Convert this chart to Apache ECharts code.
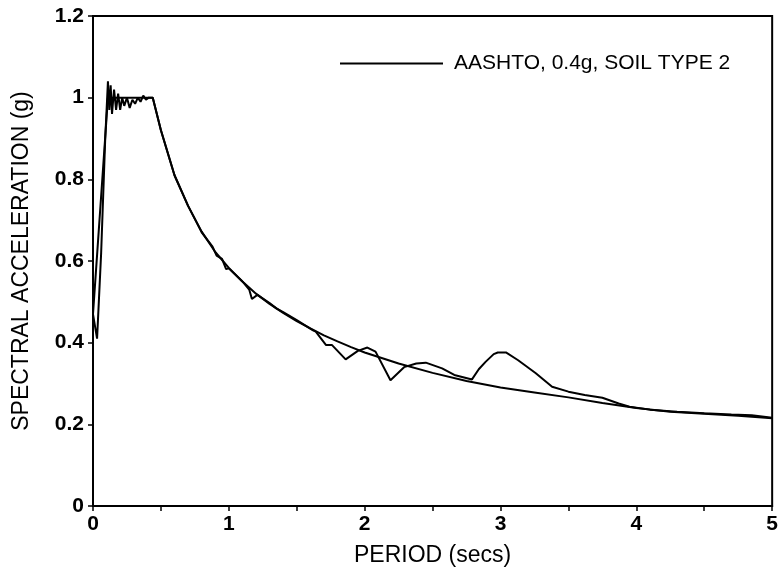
<!DOCTYPE html>
<html>
<head>
<meta charset="utf-8">
<script src="https://cdn.jsdelivr.net/npm/echarts@6/dist/echarts.min.js"></script>
<style>
  html, body { margin: 0; padding: 0; background: #fff; }
  #chart { width: 781px; height: 572px; }
</style>
</head>
<body>
<div id="chart"></div>
<script>
// AASHTO design spectrum (smooth curve)
const designPeriod = [0, 0.11, 0.44, 0.5, 0.6, 0.7, 0.8, 0.9, 1.0, 1.1, 1.2, 1.3, 1.4, 1.5, 1.6, 1.7, 1.8, 1.9,
  2.0, 2.25, 2.5, 2.75, 3.0, 3.25, 3.5, 3.75, 4.0, 4.25, 4.5, 4.75, 5.0];
const designAccel = [0.47, 1.0, 1.0, 0.92, 0.81, 0.735, 0.672, 0.622, 0.583, 0.55, 0.52, 0.495, 0.473, 0.453, 0.435, 0.418, 0.403, 0.389,
  0.376, 0.349, 0.326, 0.306, 0.29, 0.278, 0.266, 0.252, 0.24, 0.231, 0.226, 0.221, 0.215];

// matched spectrum (wiggly curve)
const matchPeriod = [0, 0.03, 0.06, 0.09, 0.11, 0.12, 0.13, 0.14, 0.155, 0.17, 0.185, 0.2, 0.215, 0.23, 0.25, 0.27, 0.29, 0.31, 0.33, 0.35, 0.37, 0.39, 0.41, 0.44,
  0.5, 0.6, 0.7, 0.8, 0.88, 0.91, 0.95, 0.98, 1.0, 1.1, 1.15, 1.17, 1.21, 1.3, 1.35, 1.4, 1.5, 1.62, 1.64, 1.716, 1.76, 1.86, 1.95, 2.02, 2.08,
  2.19, 2.29, 2.38, 2.45, 2.57, 2.66, 2.79, 2.84, 2.89, 2.95, 2.98, 3.04, 3.13, 3.26, 3.38, 3.5, 3.62, 3.75, 3.87, 3.95, 4.1, 4.3, 4.5, 4.7, 4.85, 5.0];
const matchAccel = [0.47, 0.41, 0.62, 0.9, 1.04, 0.97, 1.03, 0.96, 1.02, 0.97, 1.01, 0.97, 1.0, 0.98, 1.0, 0.975, 0.995, 0.985, 1.0, 0.99, 1.005, 0.995, 1.0, 1.0,
  0.92, 0.81, 0.735, 0.67, 0.635, 0.613, 0.605, 0.58, 0.582, 0.55, 0.53, 0.507, 0.517, 0.497, 0.484, 0.475, 0.455, 0.43, 0.427, 0.394, 0.394, 0.359, 0.38, 0.388, 0.378,
  0.308, 0.34, 0.349, 0.351, 0.337, 0.321, 0.31, 0.335, 0.353, 0.372, 0.376, 0.376, 0.357, 0.325, 0.292, 0.28, 0.272, 0.265, 0.251, 0.243, 0.236, 0.231, 0.227, 0.224, 0.222, 0.216];

const legendLabel = 'AASHTO, 0.4g, SOIL TYPE 2';
const font = "'Liberation Sans', Arial, sans-serif";

const zip = (xs, ys) => xs.map((x, i) => [x, ys[i]]);

const getOption = () => {
  return {
    animation: false,
    backgroundColor: '#fff',
    grid: {
      left: 93, right: 7, top: 16, bottom: 66,
      show: true, borderColor: '#000', borderWidth: 2
    },
    legend: {
      data: [legendLabel],
      left: 335, top: 48,
      icon: 'rect', itemWidth: 103, itemHeight: 2,
      itemStyle: { color: '#000' },
      textStyle: { fontFamily: font, fontSize: 21, color: '#000', padding: [0, 0, 0, 6] }
    },
    xAxis: {
      type: 'value', min: 0, max: 5, interval: 1,
      name: 'PERIOD (secs)', nameLocation: 'middle', nameGap: 38,
      nameTextStyle: { fontFamily: font, fontSize: 23, color: '#000' },
      axisLine: { lineStyle: { color: '#000', width: 2 } },
      axisTick: { length: 5, lineStyle: { color: '#000', width: 1.5 } },
      minorTick: { show: true, splitNumber: 2, length: 5, lineStyle: { color: '#000', width: 1.5 } },
      axisLabel: { fontFamily: font, fontSize: 21, fontWeight: 'bold', color: '#000', margin: 8 },
      splitLine: { show: false }
    },
    yAxis: {
      type: 'value', min: 0, max: 1.2, interval: 0.2,
      name: 'SPECTRAL ACCELERATION (g)', nameLocation: 'middle', nameGap: 60,
      nameTextStyle: { fontFamily: font, fontSize: 23, color: '#000' },
      axisLine: { show: true, lineStyle: { color: '#000', width: 2 } },
      axisTick: { show: true, length: 5, lineStyle: { color: '#000', width: 1.5 } },
      axisLabel: { fontFamily: font, fontSize: 21, fontWeight: 'bold', color: '#000', margin: 9 },
      splitLine: { show: false }
    },
    series: [
      {
        name: legendLabel, type: 'line', symbol: 'none',
        data: zip(designPeriod, designAccel),
        lineStyle: { color: '#000', width: 2 },
        itemStyle: { color: '#000' }
      },
      {
        name: 'Matched', type: 'line', symbol: 'none',
        data: zip(matchPeriod, matchAccel),
        lineStyle: { color: '#000', width: 2 },
        itemStyle: { color: '#000' }
      }
    ]
  };
};

const chart = echarts.init(document.getElementById('chart'));
chart.setOption(getOption());
</script>
</body>
</html>
